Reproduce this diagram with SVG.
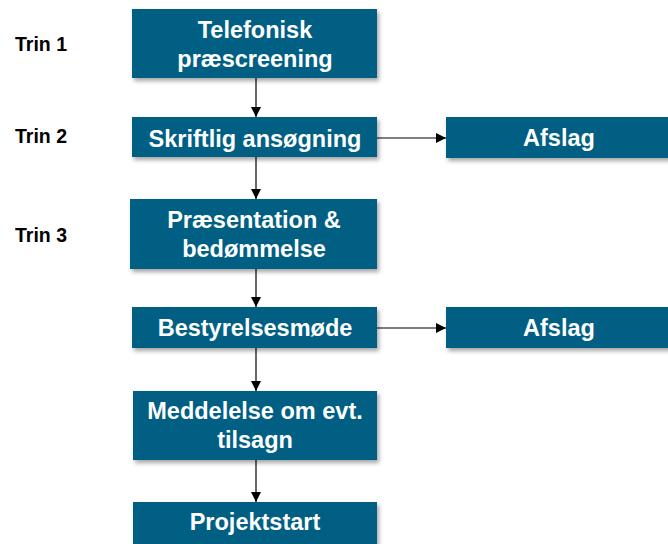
<svg xmlns="http://www.w3.org/2000/svg" width="668" height="544" viewBox="0 0 668 544">
<defs>
<filter id="sh" x="-10%" y="-20%" width="130%" height="160%">
<feDropShadow dx="2" dy="3" stdDeviation="2" flood-color="#000" flood-opacity="0.35"/>
</filter>
<marker id="ah" viewBox="0 0 10 10" refX="10" refY="5" markerWidth="10" markerHeight="10" markerUnits="userSpaceOnUse" orient="auto">
<path d="M0,0 L10,5 L0,10 z" fill="#000"/>
</marker>
<style>
.box{fill:#005F83;filter:url(#sh)}
.t{font-family:"Liberation Sans",Arial,sans-serif;font-weight:bold;font-size:23.5px;fill:#fff;text-anchor:middle}
.s{font-family:"Liberation Sans",Arial,sans-serif;font-weight:bold;font-size:19.5px;fill:#000}
.c{stroke:#000;stroke-width:1.2;fill:none;marker-end:url(#ah)}
</style>
</defs>
<rect width="668" height="544" fill="#fff"/>
<g id="labels">
<text class="s" x="15" y="51">Trin 1</text>
<text class="s" x="15" y="143">Trin 2</text>
<text class="s" x="15" y="242">Trin 3</text>
</g>
<g id="connectors">
<line class="c" x1="256" y1="78" x2="256" y2="117"/>
<line class="c" x1="256" y1="157" x2="256" y2="199"/>
<line class="c" x1="256" y1="269" x2="256" y2="307"/>
<line class="c" x1="256" y1="348" x2="256" y2="391"/>
<line class="c" x1="256" y1="460" x2="256" y2="502"/>
<line class="c" x1="377" y1="138" x2="446" y2="138"/>
<line class="c" x1="377" y1="328" x2="446" y2="328"/>
</g>
<g id="n1"><rect class="box" x="132" y="9" width="245" height="69"/><text class="t" x="255" y="38">Telefonisk</text><text class="t" x="255" y="67">præscreening</text></g>
<g id="n2"><rect class="box" x="132" y="117" width="245" height="40"/><text class="t" x="255" y="147">Skriftlig ansøgning</text></g>
<g id="n3"><rect class="box" x="446" y="117" width="226" height="41"/><text class="t" x="559" y="146">Afslag</text></g>
<g id="n4"><rect class="box" x="130" y="199" width="247" height="70"/><text class="t" x="254" y="228">Præsentation &amp;</text><text class="t" x="254" y="257">bedømmelse</text></g>
<g id="n5"><rect class="box" x="132" y="307" width="245" height="41"/><text class="t" x="255" y="336">Bestyrelsesmøde</text></g>
<g id="n6"><rect class="box" x="446" y="307" width="226" height="41"/><text class="t" x="559" y="336">Afslag</text></g>
<g id="n7"><rect class="box" x="133" y="391" width="244" height="69"/><text class="t" x="255" y="419">Meddelelse om evt.</text><text class="t" x="255" y="448">tilsagn</text></g>
<g id="n8"><rect class="box" x="133" y="502" width="244" height="50"/><text class="t" x="255" y="530">Projektstart</text></g>
</svg>
